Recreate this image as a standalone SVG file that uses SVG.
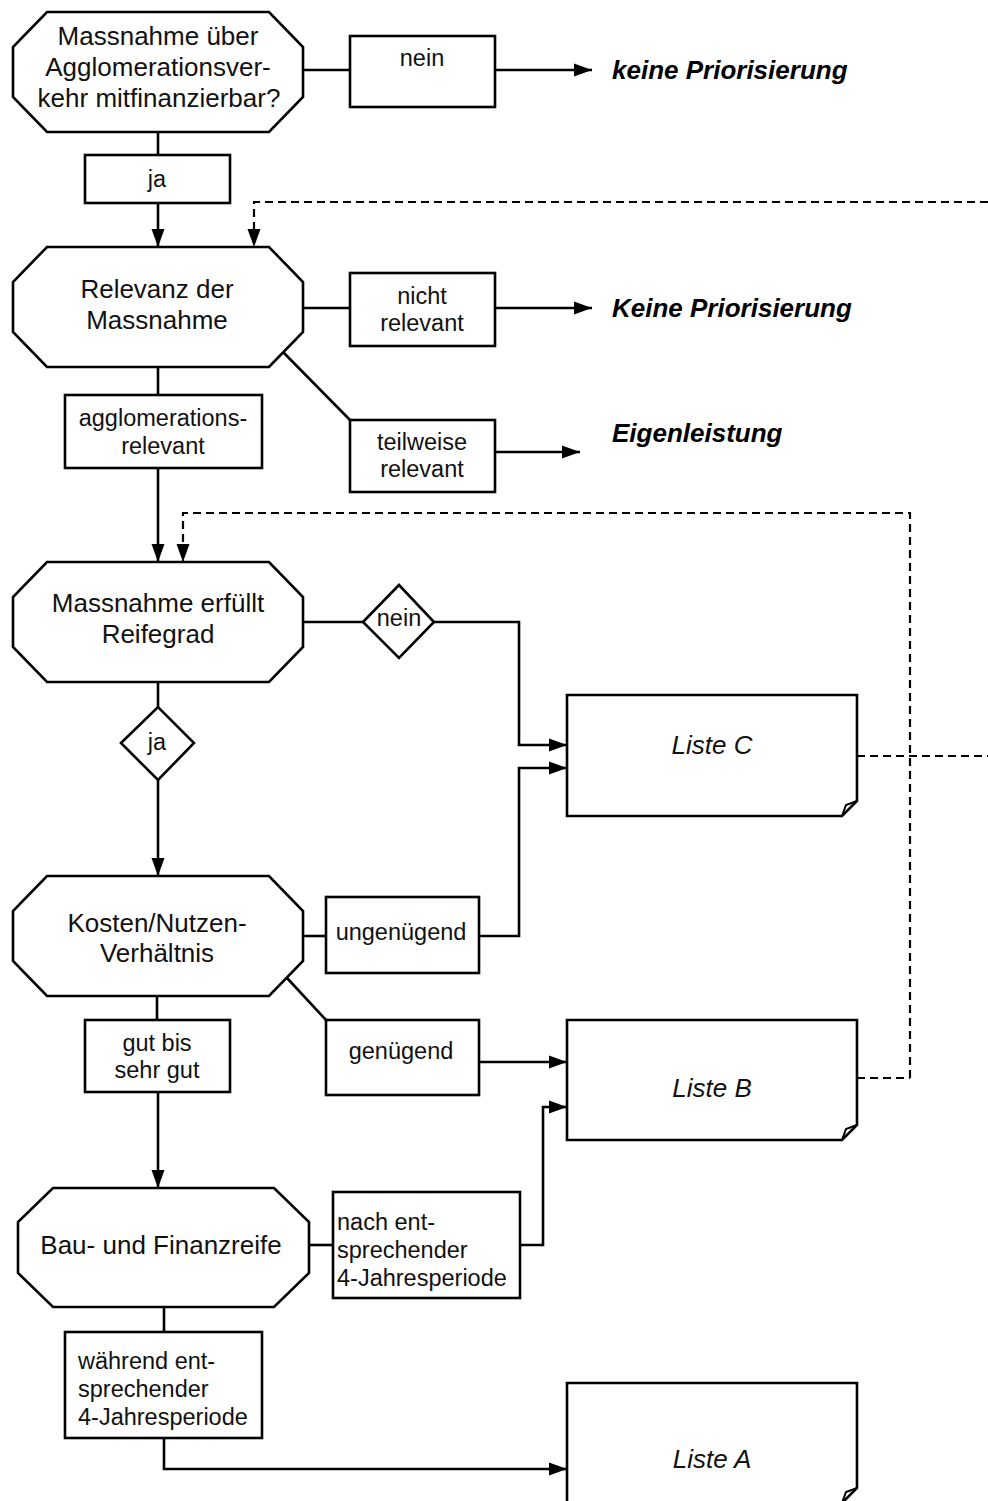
<svg xmlns="http://www.w3.org/2000/svg" width="988" height="1501" viewBox="0 0 988 1501">
<style>
.shape{fill:#fff;stroke:#000;stroke-width:2.6;stroke-linejoin:miter}
.ln{fill:none;stroke:#000;stroke-width:2.6}
.dash{fill:none;stroke:#000;stroke-width:2.2;stroke-dasharray:8,5}
.t{font-family:"Liberation Sans",Arial,sans-serif;font-size:26px;fill:#111;text-anchor:middle}
.l{font-family:"Liberation Sans",Arial,sans-serif;font-size:23.5px;fill:#111;text-anchor:middle}
.ll{font-family:"Liberation Sans",Arial,sans-serif;font-size:23.5px;fill:#111;text-anchor:start}
.o{font-family:"Liberation Sans",Arial,sans-serif;font-size:26px;font-weight:bold;font-style:italic;fill:#000}
.li{font-family:"Liberation Sans",Arial,sans-serif;font-size:26px;font-style:italic;fill:#111;text-anchor:middle}
</style>
<defs>
<marker id="ah" markerUnits="userSpaceOnUse" markerWidth="19" markerHeight="14" refX="18" refY="7" orient="auto">
<path d="M0,0.5 L18,7 L0,13.5 Z" fill="#000"/>
</marker>
</defs>

<g id="connectors">
<line class="ln" x1="303" y1="70" x2="350" y2="70"/>
<line class="ln" x1="495" y1="70" x2="592" y2="70" marker-end="url(#ah)"/>
<line class="ln" x1="158" y1="132" x2="158" y2="155"/>
<line class="ln" x1="158" y1="203" x2="158" y2="247" marker-end="url(#ah)"/>
<polyline class="dash" points="988,202 254,202 254,247" marker-end="url(#ah)"/>
<line class="ln" x1="303" y1="308" x2="350" y2="308"/>
<line class="ln" x1="495" y1="308" x2="592" y2="308" marker-end="url(#ah)"/>
<line class="ln" x1="283" y1="352" x2="350" y2="420"/>
<line class="ln" x1="495" y1="452" x2="580" y2="452" marker-end="url(#ah)"/>
<line class="ln" x1="158" y1="367" x2="158" y2="395"/>
<line class="ln" x1="158" y1="468" x2="158" y2="562" marker-end="url(#ah)"/>
<polyline class="dash" points="910,1078 910,513 183,513 183,562" marker-end="url(#ah)"/>
<line class="dash" x1="857" y1="756" x2="988" y2="756"/>
<line class="dash" x1="857" y1="1078" x2="910" y2="1078"/>
<line class="ln" x1="303" y1="622" x2="363" y2="622"/>
<polyline class="ln" points="434,622 519,622 519,745 567,745" marker-end="url(#ah)"/>
<line class="ln" x1="158" y1="682" x2="158" y2="707"/>
<line class="ln" x1="158" y1="780" x2="158" y2="876" marker-end="url(#ah)"/>
<line class="ln" x1="303" y1="936" x2="326" y2="936"/>
<polyline class="ln" points="479,936 519,936 519,768 567,768" marker-end="url(#ah)"/>
<line class="ln" x1="287" y1="978" x2="326" y2="1020"/>
<line class="ln" x1="479" y1="1062" x2="567" y2="1062" marker-end="url(#ah)"/>
<line class="ln" x1="157" y1="996" x2="157" y2="1020"/>
<line class="ln" x1="158" y1="1092" x2="158" y2="1188" marker-end="url(#ah)"/>
<line class="ln" x1="309" y1="1245" x2="333" y2="1245"/>
<polyline class="ln" points="520,1245 543,1245 543,1107 567,1107" marker-end="url(#ah)"/>
<line class="ln" x1="164" y1="1307" x2="164" y2="1332"/>
<polyline class="ln" points="164,1438 164,1469 567,1469" marker-end="url(#ah)"/>
</g>

<g id="n1">
<polygon class="shape" points="47,12 269,12 303,47 303,97 269,132 47,132 13,97 13,47"/>
<text class="t" x="158" y="45">Massnahme über</text>
<text class="t" x="158" y="76">Agglomerationsver-</text>
<text class="t" x="159" y="107">kehr mitfinanzierbar?</text>
</g>
<g id="nein1">
<rect class="shape" x="350" y="36" width="145" height="71"/>
<text class="l" x="422" y="66">nein</text>
</g>
<g id="out1"><text class="o" x="612" y="79">keine Priorisierung</text></g>
<g id="ja1">
<rect class="shape" x="85" y="155" width="145" height="48"/>
<text class="l" x="157" y="187">ja</text>
</g>

<g id="n2">
<polygon class="shape" points="47,247 269,247 303,282 303,332 269,367 47,367 13,332 13,282"/>
<text class="t" x="157" y="298">Relevanz der</text>
<text class="t" x="157" y="329">Massnahme</text>
</g>
<g id="nichtrel">
<rect class="shape" x="350" y="273" width="145" height="73"/>
<text class="l" x="422" y="304">nicht</text>
<text class="l" x="422" y="331">relevant</text>
</g>
<g id="out2"><text class="o" x="612" y="317">Keine Priorisierung</text></g>
<g id="teilrel">
<rect class="shape" x="350" y="420" width="145" height="72"/>
<text class="l" x="422" y="450">teilweise</text>
<text class="l" x="422" y="477">relevant</text>
</g>
<g id="out3"><text class="o" x="612" y="442">Eigenleistung</text></g>
<g id="agglorel">
<rect class="shape" x="65" y="395" width="197" height="73"/>
<text class="l" x="163" y="426">agglomerations-</text>
<text class="l" x="163" y="454">relevant</text>
</g>

<g id="n3">
<polygon class="shape" points="47,562 269,562 303,597 303,647 269,682 47,682 13,647 13,597"/>
<text class="t" x="158" y="612">Massnahme erfüllt</text>
<text class="t" x="158" y="643">Reifegrad</text>
</g>
<g id="nein2">
<polygon class="shape" points="363,622 399,585 434,622 399,658"/>
<text class="l" x="399" y="626">nein</text>
</g>
<g id="ja2">
<polygon class="shape" points="121,743 158,707 194,743 158,780"/>
<text class="l" x="157" y="750">ja</text>
</g>

<g id="listeC">
<path class="shape" d="M567,695 H857 V801 L842,816 H567 Z"/>
<path class="ln" style="stroke-width:2" d="M842,816 L846,805 L857,801"/>
<text class="li" x="712" y="754">Liste C</text>
</g>

<g id="n4">
<polygon class="shape" points="47,876 269,876 303,911 303,961 269,996 47,996 13,961 13,911"/>
<text class="t" x="157" y="932">Kosten/Nutzen-</text>
<text class="t" x="157" y="962">Verhältnis</text>
</g>
<g id="ungen">
<rect class="shape" x="326" y="897" width="153" height="76"/>
<text class="l" x="401" y="940">ungenügend</text>
</g>
<g id="gen">
<rect class="shape" x="326" y="1020" width="153" height="75"/>
<text class="l" x="401" y="1059">genügend</text>
</g>
<g id="gut">
<rect class="shape" x="85" y="1020" width="145" height="72"/>
<text class="l" x="157" y="1051">gut bis</text>
<text class="l" x="157" y="1078">sehr gut</text>
</g>

<g id="listeB">
<path class="shape" d="M567,1020 H857 V1125 L842,1140 H567 Z"/>
<path class="ln" style="stroke-width:2" d="M842,1140 L846,1129 L857,1125"/>
<text class="li" x="712" y="1097">Liste B</text>
</g>

<g id="n5">
<polygon class="shape" points="53,1188 274,1188 309,1222 309,1273 274,1307 53,1307 18,1273 18,1222"/>
<text class="t" x="161" y="1254">Bau- und Finanzreife</text>
</g>
<g id="nach">
<rect class="shape" x="333" y="1192" width="187" height="106"/>
<text class="ll" x="337" y="1230">nach ent-</text>
<text class="ll" x="337" y="1258">sprechender</text>
<text class="ll" x="337" y="1286">4-Jahresperiode</text>
</g>
<g id="waehrend">
<rect class="shape" x="65" y="1332" width="197" height="106"/>
<text class="ll" x="78" y="1369">während ent-</text>
<text class="ll" x="78" y="1397">sprechender</text>
<text class="ll" x="78" y="1425">4-Jahresperiode</text>
</g>

<g id="listeA">
<path class="shape" d="M567,1383 H857 V1488 L842,1503 H567 Z"/>
<path class="ln" style="stroke-width:2" d="M842,1503 L846,1492 L857,1488"/>
<text class="li" x="712" y="1468">Liste A</text>
</g>
</svg>
